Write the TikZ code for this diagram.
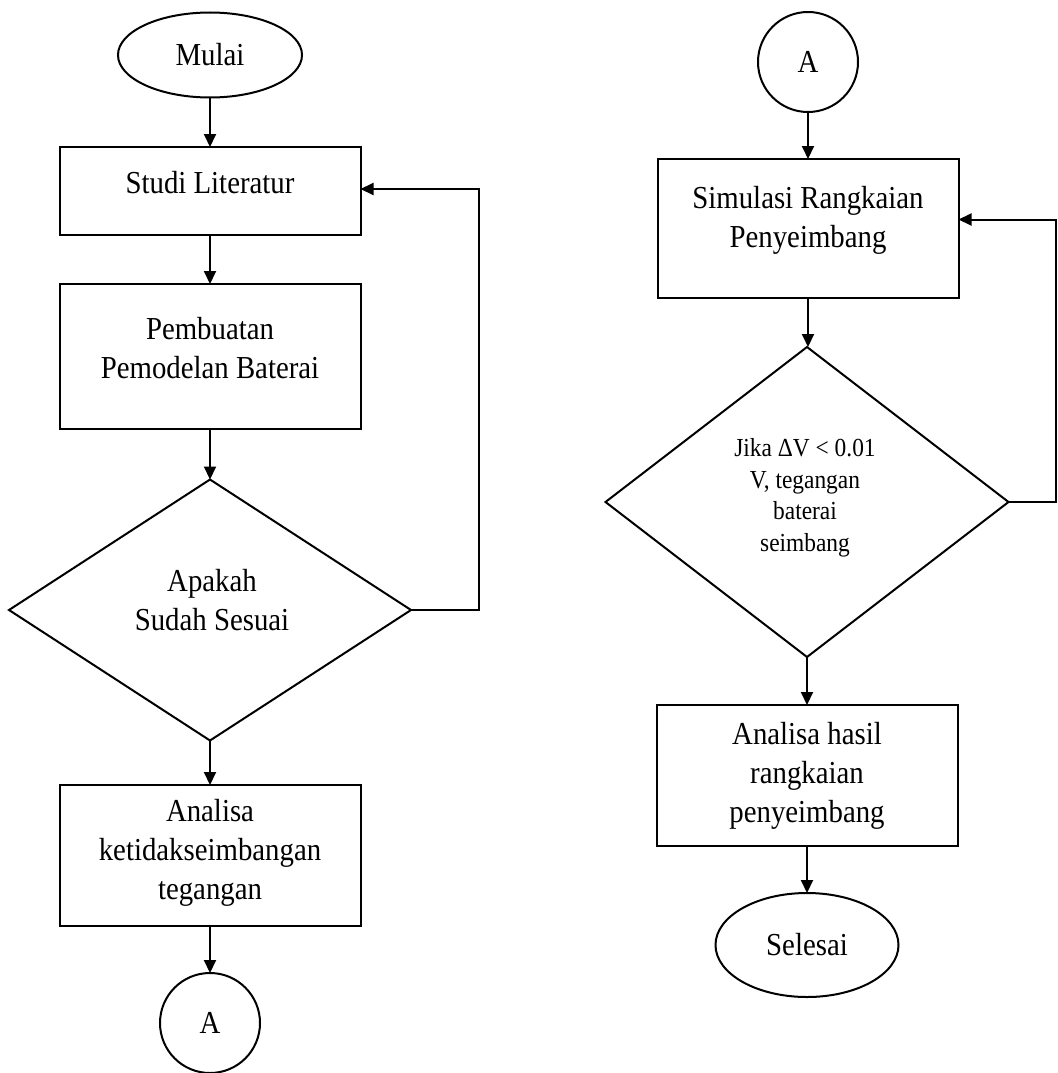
\documentclass[tikz,border=0pt]{standalone}
\usepackage{fontspec}
\setmainfont{Liberation Serif}[FakeStretch=0.9]
\usetikzlibrary{shapes.geometric,arrows.meta}
\begin{document}
\begin{tikzpicture}[x=1pt,y=-1pt,
  every node/.style={inner sep=0pt, outer sep=0pt},
  proc/.style={draw, line width=2pt, rectangle, minimum width=301pt},
  term/.style={draw, line width=2pt, ellipse, font=\fontsize{32}{39}\selectfont},
  dec/.style={draw, line width=2pt, diamond},
  conn/.style={draw, line width=2pt, circle, minimum size=100pt, font=\fontsize{32}{39}\selectfont},
  txt/.style={align=center, font=\fontsize{32}{39}\selectfont},
  smalltxt/.style={align=center, font=\fontsize{26}{31.5}\selectfont},
  flow/.style={line width=2pt, -{Triangle[length=13pt,width=12pt]}},
  plainline/.style={line width=2pt}]
\useasboundingbox (0,0) rectangle (1057,1073);

% ---------------- left column ----------------
\node[term, minimum width=184pt, minimum height=85pt] (mulai) at (210,55) {Mulai};
\node[proc, minimum height=88pt] (studi) at (210,191) {};
\node[txt] (studit) at (210,183) {Studi Literatur};
\node[proc, minimum height=145pt] (buat) at (210,356.5) {};
\node[txt] (buatt) at (210,348) {Pembuatan\\Pemodelan Baterai};
\node[dec, minimum width=402pt, minimum height=261pt] (cek) at (210,610) {};
\node[txt] (cekt) at (212,600) {Apakah\\Sudah Sesuai};
\node[proc, minimum height=141pt] (anal) at (210,855.5) {};
\node[txt] (analt) at (210,853) {Analisa\\ketidakseimbangan\\tegangan};
\node[conn] (a1) at (210,1023) {A};

\draw[flow] (mulai.south) -- (studi.north);
\draw[flow] (studi.south) -- (buat.north);
\draw[flow] (buat.south) -- (cek.north);
\draw[flow] (cek.south) -- (anal.north);
\draw[flow] (anal.south) -- (a1.north);
\coordinate (lb) at (479,610);
\draw[flow] (cek.east) -- (lb) |- ([yshift=2pt]studi.east);

% ---------------- right column ----------------
\node[conn] (a2) at (808,62) {A};
\node[proc, minimum height=139pt] (sim) at (808,228.5) {};
\node[txt] (simt) at (808,220) {Simulasi Rangkaian\\Penyeimbang};
\node[dec, minimum width=403pt, minimum height=310pt] (jika) at (807,502) {};
\node[smalltxt] (jikat) at (805,498) {Jika ΔV < 0.01\\V, tegangan\\baterai\\seimbang};
\node[proc, minimum height=141pt] (hasil) at (807,775.5) {};
\node[txt] (hasilt) at (807,776) {Analisa hasil\\rangkaian\\penyeimbang};
\node[term, minimum width=183pt, minimum height=104pt] (selesai) at (807,945) {Selesai};

\draw[flow] (a2.south) -- (sim.north);
\draw[flow] (sim.south) -- (sim.south |- jika.north);
\draw[flow] (jika.south) -- (hasil.north);
\draw[flow] (hasil.south) -- (selesai.north);
\coordinate (rb) at (1056,502);
\draw[flow] (jika.east) -- (rb) |- ([yshift=9pt]sim.east);
\end{tikzpicture}
\end{document}
